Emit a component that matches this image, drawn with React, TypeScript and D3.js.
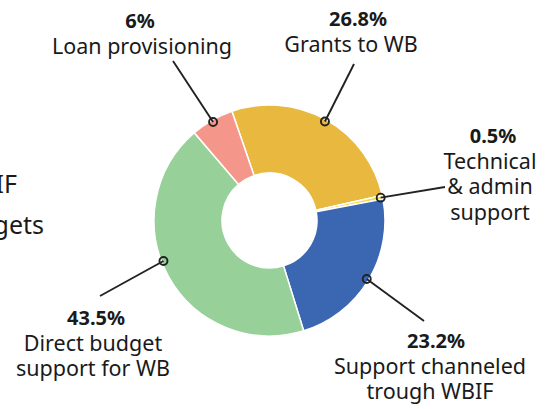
import React from "react";
import * as d3 from "d3";

const categories = [
  "Grants to WB",
  "Technical & admin support",
  "Support channeled trough WBIF",
  "Direct budget support for WB",
  "Loan provisioning",
];
const values = [26.8, 0.5, 23.2, 43.5, 6];
const percentLabels = ["26.8%", "0.5%", "23.2%", "43.5%", "6%"];
const nameLines = [
  ["Grants to WB"],
  ["Technical", "& admin", "support"],
  ["Support channeled", "trough WBIF"],
  ["Direct budget", "support for WB"],
  ["Loan provisioning"],
];
const colors = ["#E8B83F", "#EEDD3A", "#3B66B1", "#98D09A", "#F4978A"];
const titleLines = ["WBIF", "budgets"];

// annotation layout (positions only)
const labelLayout = [
  { end: [354, 64], pctX: 358, nameX: 351, pctY: 26, shift: 0 },
  { end: [445, 187], pctX: 493, nameX: 490, pctY: 143, shift: 0 },
  { end: [424, 321], pctX: 436, nameX: 430, pctY: 348, shift: 0 },
  { end: [100, 296], pctX: 96, nameX: 93, pctY: 325, shift: 8 },
  { end: [173, 61], pctX: 140, nameX: 142, pctY: 28, shift: 0 },
];

const W = 553;
const H = 409;
const cx = 269.5;
const cy = 220.5;
const outerR = 115.5;
const innerR = 47.5;
const startDeg = -19;
const font = "'Noto Sans', 'Open Sans', sans-serif";

export default function App() {
  const pie = d3
    .pie<number>()
    .sort(null)
    .value((d) => d)
    .startAngle((startDeg * Math.PI) / 180)
    .endAngle(((startDeg + 360) * Math.PI) / 180);
  const arcs = pie(values);
  const arc = d3
    .arc<d3.PieArcDatum<number>>()
    .innerRadius(innerR)
    .outerRadius(outerR);

  return (
    <svg
      width={W}
      height={H}
      style={{ position: "absolute", left: 0, top: 0, background: "#fff" }}
      fontFamily={font}
    >
      {titleLines.map((t, i) => (
        <text key={t} x={44 - (i === 0 ? 27 : 0)} y={193 + i * 41} textAnchor="end" fontSize={25} fill="#1a1a1a">
          {t}
        </text>
      ))}
      <g transform={`translate(${cx},${cy})`}>
        {arcs.map((a, i) => (
          <path key={categories[i]} d={arc(a) || ""} fill={colors[i]} stroke="#fff" strokeWidth={1.5} />
        ))}
      </g>
      {arcs.map((a, i) => {
        const L = labelLayout[i];
        const mid = (a.startAngle + a.endAngle) / 2 + (L.shift * Math.PI) / 180;
        const r = outerR - 2;
        const dx = cx + r * Math.sin(mid);
        const dy = cy - r * Math.cos(mid);
        return (
          <g key={"lab" + i}>
            <line x1={dx} y1={dy} x2={L.end[0]} y2={L.end[1]} stroke="#222" strokeWidth={1.9} />
            <circle cx={dx} cy={dy} r={4} fill="none" stroke="#222" strokeWidth={1.9} />
            <text x={L.pctX} y={L.pctY} textAnchor="middle" fontSize={20} fontWeight="bold" fill="#1a1a1a">
              {percentLabels[i]}
            </text>
            {nameLines[i].map((n, j) => (
              <text key={n} x={L.nameX} y={L.pctY + 25.5 * (j + 1)} textAnchor="middle" fontSize={21.5} fill="#1a1a1a">
                {n}
              </text>
            ))}
          </g>
        );
      })}
    </svg>
  );
}
